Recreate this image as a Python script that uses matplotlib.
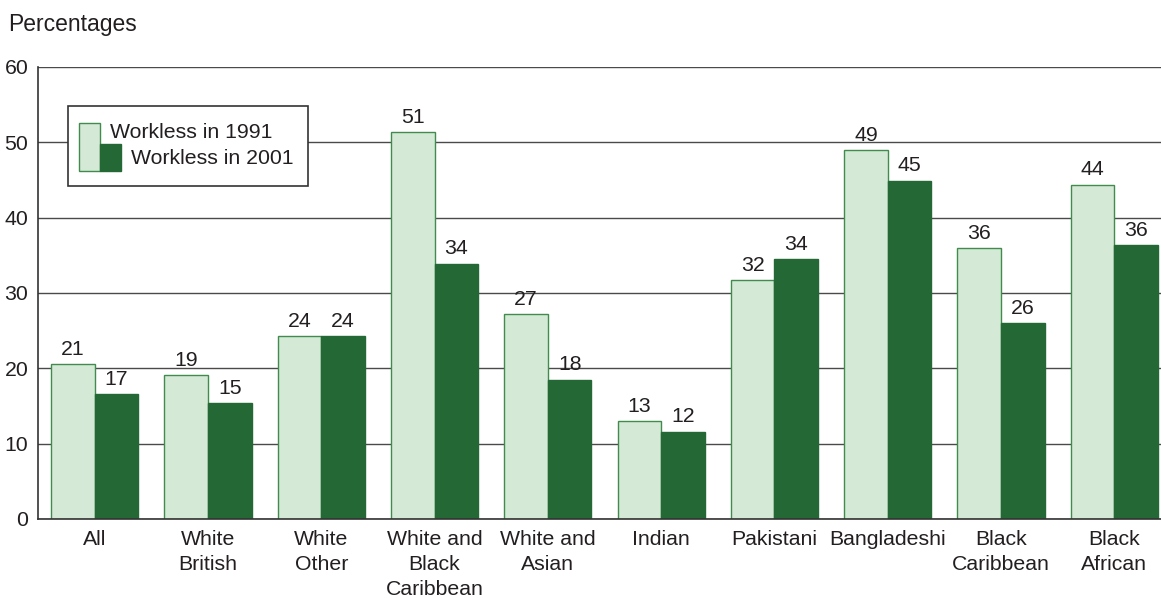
import matplotlib.pyplot as plt
from matplotlib.patches import Rectangle
import numpy as np

plt.rcParams['font.family'] = ['Liberation Sans', 'DejaVu Sans']

groups = ['All', 'White\nBritish', 'White\nOther', 'White and\nBlack\nCaribbean',
          'White and\nAsian', 'Indian', 'Pakistani', 'Bangladeshi',
          'Black\nCaribbean', 'Black\nAfrican']
workless_1991 = [20.6, 19.1, 24.3, 51.4, 27.2, 13.0, 31.7, 49.0, 36.0, 44.4]
workless_2001 = [16.6, 15.4, 24.3, 33.9, 18.5, 11.6, 34.5, 44.9, 26.0, 36.4]
series_names = ['Workless in 1991', 'Workless in 2001']

light = '#d5e9d7'
light_edge = '#3f8c4c'
dark = '#246836'
text_col = '#231f20'
fs = 15.3

W, H = 1161, 598
fig = plt.figure(figsize=(W / 100, H / 100), dpi=100)
# axes run a little past the right edge, gridlines get cut by the figure
ax = fig.add_axes([38 / W, 1 - 519 / H, 1133 / W, 452 / H])

x = np.arange(len(groups))
bw = 0.385
b1 = ax.bar(x - bw / 2, workless_1991, bw, color=light, edgecolor=light_edge,
            linewidth=1, zorder=2)
b2 = ax.bar(x + bw / 2, workless_2001, bw, color=dark, edgecolor=dark,
            linewidth=1, zorder=2)

for bars, vals in ((b1, workless_1991), (b2, workless_2001)):
    for r, v in zip(bars, vals):
        ax.text(r.get_x() + r.get_width() / 2, v + 0.7, f'{v:.0f}',
                ha='center', va='bottom', fontsize=fs, color=text_col)

ax.set_xlim(-0.5, len(groups) - 0.5)
ax.set_ylim(0, 60)
ax.set_yticks(range(0, 61, 10))
ax.yaxis.grid(True, color='#4a4a4a', linewidth=1)
ax.set_axisbelow(True)
ax.set_xticks(x)
ax.set_xticklabels(groups, fontsize=fs, color=text_col, linespacing=1.38,
                   va='top')
ax.tick_params(axis='both', length=0, labelsize=fs, colors=text_col)
ax.tick_params(axis='x', pad=8)
ax.tick_params(axis='y', pad=7)
for s in ('top', 'right'):
    ax.spines[s].set_visible(False)
for s in ('left', 'bottom'):
    ax.spines[s].set_color('#333333')
    ax.spines[s].set_linewidth(1.2)

fig.text(8 / W, 1 - 24 / H, 'Percentages', fontsize=16.5, color=text_col,
         va='center', ha='left')


# legend box, drawn by hand in figure pixels
def fx(px):
    return px / W


def fy(py):
    return 1 - py / H


fig.patches.append(Rectangle((fx(68), fy(186)), fx(240), (186 - 106) / H,
                             transform=fig.transFigure, facecolor='white',
                             edgecolor='#333333', linewidth=1.2, zorder=5))
fig.patches.append(Rectangle((fx(79), fy(171)), fx(21), (171 - 123) / H,
                             transform=fig.transFigure, facecolor=light,
                             edgecolor=light_edge, linewidth=1, zorder=6))
fig.patches.append(Rectangle((fx(100), fy(171)), fx(21), (171 - 144) / H,
                             transform=fig.transFigure, facecolor=dark,
                             edgecolor=dark, linewidth=1, zorder=6))
fig.text(fx(110), fy(132), series_names[0], fontsize=fs, color=text_col,
         va='center', ha='left', zorder=7)
fig.text(fx(131), fy(158), series_names[1], fontsize=fs, color=text_col,
         va='center', ha='left', zorder=7)

fig.savefig('out.png', dpi=100)
